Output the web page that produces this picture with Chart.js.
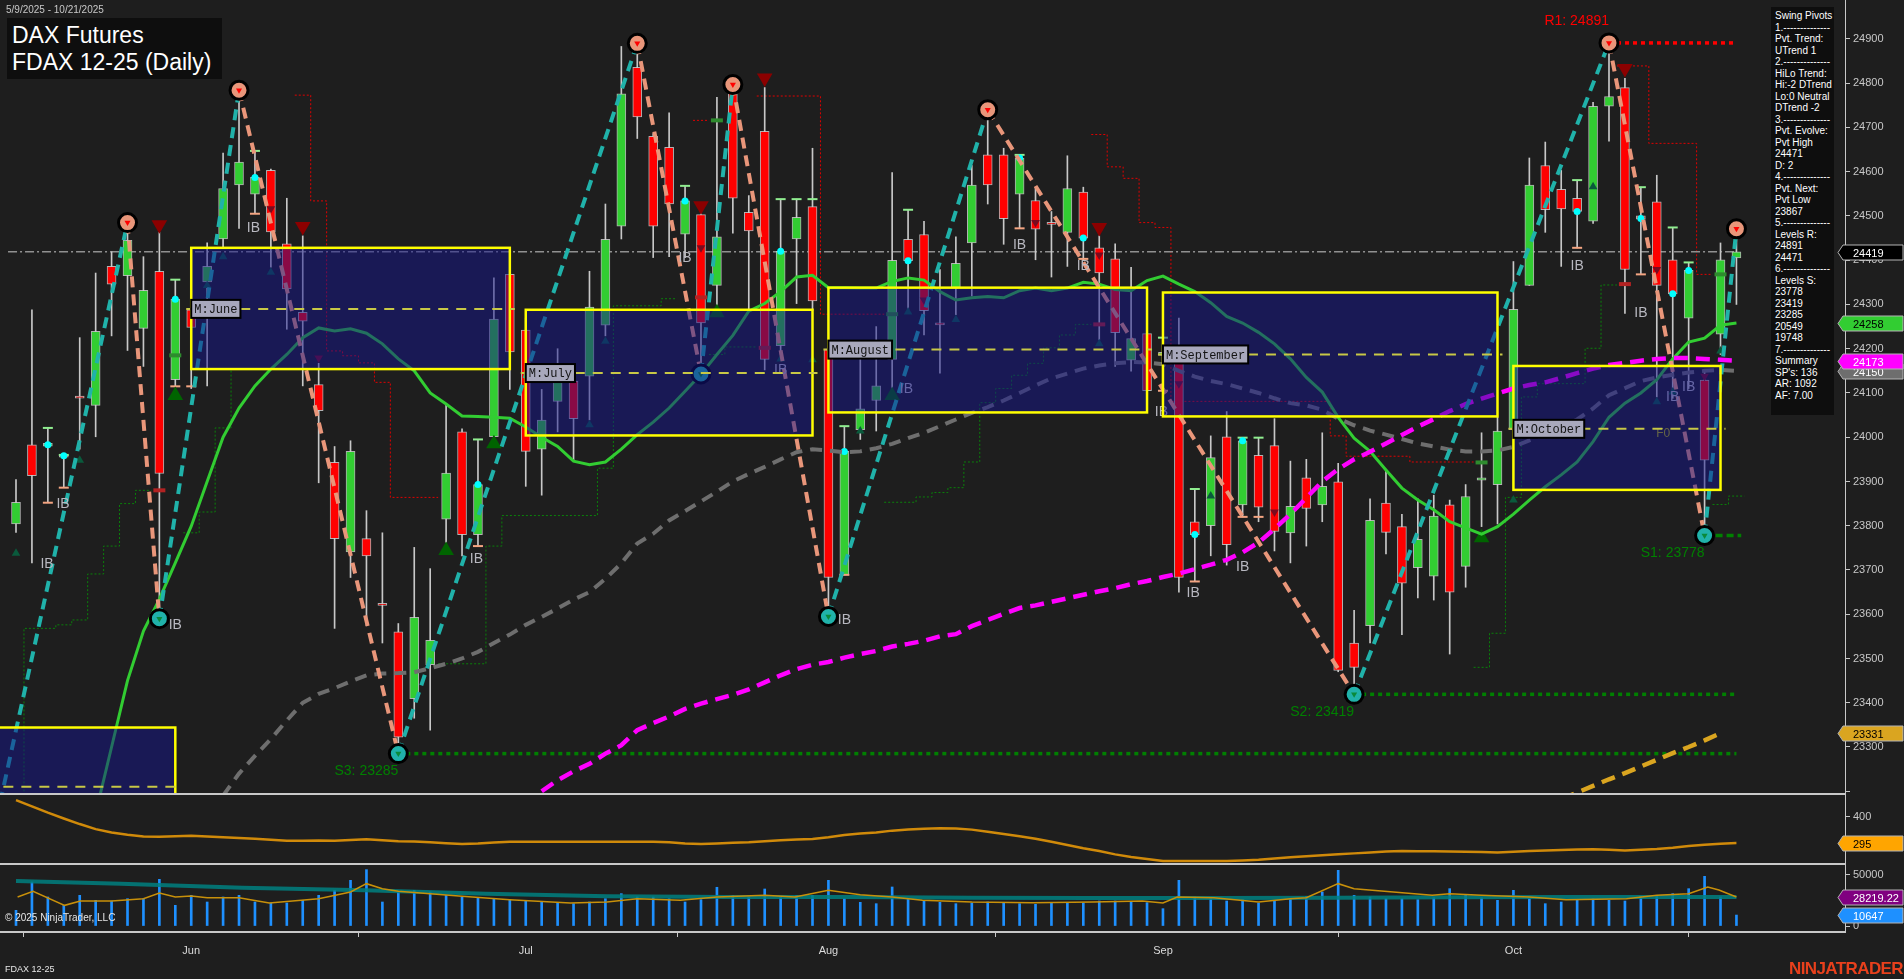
<!DOCTYPE html>
<html>
<head>
<meta charset="utf-8">
<title>DAX Futures FDAX 12-25 (Daily)</title>
<script src="https://cdn.jsdelivr.net/npm/chart.js@4.4.1/dist/chart.umd.min.js"></script>
<style>
  html, body { margin:0; padding:0; background:#1e1e1e; }
  body { width:1904px; height:979px; position:relative; overflow:hidden; font-family:"Liberation Sans", Arial, sans-serif; }
  canvas { position:absolute; left:0; display:block; }
  #cMain { top:0; } #cAtr { top:795px; } #cVol { top:865px; }
  .txt { position:absolute; white-space:nowrap; }
  #range { left:6px; top:4px; font-size:10px; color:#c8c8c8; }
  #title { left:7px; top:18px; width:215px; height:61px; background:#0e0e0e; color:#fff; font-size:23px; line-height:27px; padding:4px 0 0 5px; box-sizing:border-box; }
  #info { left:1771px; top:7px; width:63px; height:408px; background:#0e0e0e; color:#fff; font-size:10px; line-height:11.5px; padding:3px 0 0 4px; box-sizing:border-box; }
  #copy { left:5px; top:912px; font-size:10px; color:#e6e6e6; }
  #sym { left:5px; top:964px; font-size:9px; color:#e6e6e6; }
  #brand { right:1px; top:959px; font-size:17px; font-weight:bold; color:#e8401c; letter-spacing:-0.6px; }
</style>
</head>
<body>
<canvas id="cMain" width="1904" height="795"></canvas>
<canvas id="cAtr" width="1904" height="70"></canvas>
<canvas id="cVol" width="1904" height="114"></canvas>
<div class="txt" id="range">5/9/2025 - 10/21/2025</div>
<div class="txt" id="title">DAX Futures<br>FDAX 12-25 (Daily)</div>
<div class="txt" id="info">Swing Pivots<br>1.--------------<br>Pvt. Trend:<br>UTrend 1<br>2.--------------<br>HiLo Trend:<br>Hi:-2 DTrend<br>Lo:0 Neutral<br>DTrend -2<br>3.--------------<br>Pvt. Evolve:<br>Pvt High<br>24471<br>D: 2<br>4.--------------<br>Pvt. Next:<br>Pvt Low<br>23867<br>5.--------------<br>Levels R:<br>24891<br>24471<br>6.--------------<br>Levels S:<br>23778<br>23419<br>23285<br>20549<br>19748<br>7.--------------<br>Summary<br>SP's: 136<br>AR: 1092<br>AF: 7.00</div>
<div class="txt" id="copy">© 2025 NinjaTrader, LLC</div>
<div class="txt" id="sym">FDAX 12-25</div>
<div class="txt" id="brand">NINJATRADER</div>
<script>
// ---------------- DATA ----------------
const monthIdx = [11, 32, 51, 72, 94];
const monthLabels = ['Jun', 'Jul', 'Aug', 'Sep', 'Oct'];

const opens = [23804,23983,23980,23958,24093,24072,24386,24365,24246,24375,
24130,24288,24351,24448,24570,24549,24603,24437,24282,24119,
23943,23741,23771,23623,23560,23409,23486,23815,24012,23780,
24001,24368,24242,23973,24081,24127,24138,24253,24477,24836,
24680,24655,24459,24503,24343,24779,24508,24691,24207,24448,
24521,24198,23689,24017,24083,24176,24447,24458,24258,24337,
24439,24638,24638,24549,24535,24485,24463,24554,24428,24403,
24174,24234,24185,24187,23809,23800,24001,23847,23959,23981,
23784,23908,23847,23899,23535,23574,23851,23798,23705,23686,
23847,23708,23903,23893,24017,24343,24614,24560,24540,24488,
24748,24790,24500,24532,24401,24269,24129,24233,24405];
const highs = [23904,24288,24021,23960,24225,24371,24419,24485,24408,24463,
24356,24330,24439,24642,24784,24647,24606,24540,24455,24167,
23979,23992,23834,23784,23579,23751,23703,24072,24019,23995,
24360,24373,24269,24108,24200,24132,24375,24527,24883,24890,
24686,24733,24568,24505,24768,24800,24546,24790,24538,24538,
24653,24207,24025,24187,24250,24598,24514,24488,24379,24453,
24614,24742,24653,24638,24565,24510,24636,24565,24455,24437,
24384,24236,24225,24269,23883,24003,24058,23999,23999,24042,
23946,23950,24010,23941,23609,23861,23924,23826,23861,23869,
23858,23893,24010,24045,24397,24631,24667,24603,24581,24757,
24891,24811,24565,24592,24474,24395,24149,24439,24471];
const lows = [23785,23716,23852,23886,23973,24001,24229,24196,24160,23590,
24115,24110,24116,24428,24472,24505,24384,24244,24116,23897,
23568,23683,23574,23535,23285,23365,23338,23762,23732,23754,
23990,24108,23889,23869,24012,23946,24039,24229,24448,24675,
24406,24408,24406,24143,24297,24461,24286,24152,24187,24302,
24286,23595,23689,23995,24014,24105,24286,24231,24145,24277,
24319,24527,24436,24472,24401,24362,24386,24401,24220,24160,
24149,24099,24105,23650,23674,23732,23711,23820,23809,23743,
23716,23754,23809,23470,23419,23535,23736,23554,23637,23632,
23510,23661,23798,23804,24017,24343,24463,24386,24428,24483,
24669,24280,24368,24091,24088,24110,23778,24187,24300];
const closes = [23853,23913,23986,23955,24088,24239,24346,24445,24332,23918,
24312,24248,24386,24562,24622,24587,24464,24335,24262,24060,
23771,23968,23732,23620,23322,23593,23541,23919,23780,23893,
24267,24193,23968,24039,24138,24042,24294,24447,24776,24724,
24477,24527,24534,24258,24453,24540,24466,24176,24420,24497,
24308,23683,23968,24064,24116,24400,24399,24286,24254,24393,
24570,24570,24494,24631,24470,24481,24562,24450,24371,24236,
24223,24105,24192,23683,23780,23954,23757,23992,23842,23787,
23844,23839,23889,23473,23480,23812,23785,23670,23769,23822,
23650,23866,23908,24014,24289,24570,24514,24516,24510,24748,
24770,24379,24493,24343,24324,24377,23948,24401,24419];

const maGreen = [null,null,null,null,null,23150,23300,23450,23562,23634,
23716,23799,23900,24000,24066,24116,24154,24187,24225,24247,
24240,24245,24235,24211,24177,24150,24100,24075,24048,24047,
24045,24043,24023,24000,23979,23946,23938,23944,23973,24006,
24034,24066,24104,24142,24187,24230,24285,24302,24329,24362,
24366,24338,24338,24337,24337,24352,24360,24355,24329,24310,
24315,24318,24315,24331,24337,24331,24337,24350,24346,24334,
24331,24354,24364,24346,24329,24304,24273,24258,24237,24211,
24177,24135,24102,24045,23998,23968,23926,23885,23858,23836,
23809,23795,23781,23798,23826,23858,23888,23915,23944,23990,
24045,24077,24100,24130,24177,24215,24224,24253,24258];
const maGray = [null,null,null,null,null,null,null,null,null,null,
null,null,null,23190,23240,23280,23318,23360,23400,23420,
23433,23448,23462,23466,23467,23469,23478,23488,23500,23515,
23535,23554,23576,23594,23613,23633,23650,23680,23715,23760,
23782,23812,23833,23855,23877,23900,23917,23933,23950,23966,
23973,23970,23966,23968,23975,23985,23998,24010,24025,24040,
24055,24068,24083,24100,24117,24133,24144,24155,24162,24167,
24170,24169,24165,24150,24137,24127,24120,24110,24100,24088,
24077,24072,24062,24042,24027,24015,24006,23996,23986,23979,
23972,23968,23968,23970,23978,23993,24008,24023,24040,24065,
24095,24111,24127,24135,24141,24146,24150,24152,24150];
const maMagenta = [null,null,null,null,null,null,null,null,null,null,
null,null,null,null,null,null,null,null,null,null,
null,null,null,null,null,null,null,null,null,null,
null,null,null,23200,23225,23245,23262,23285,23304,23338,
23354,23369,23386,23398,23408,23418,23430,23446,23462,23476,
23486,23492,23502,23510,23517,23527,23533,23540,23550,23555,
23573,23587,23601,23614,23620,23628,23636,23644,23652,23659,
23668,23675,23684,23692,23702,23712,23723,23740,23762,23793,
23826,23863,23900,23928,23950,23967,23986,24005,24024,24041,
24059,24075,24087,24099,24110,24118,24124,24134,24145,24155,
24163,24168,24173,24177,24179,24179,24177,24175,24173];
const maOrangeIdx = [97, 98, 99, 100, 101, 102, 103, 104, 105, 106, 107];
const maOrangeVal = [23182, 23197, 23212, 23227, 23241, 23256, 23271, 23286, 23300, 23315, 23331];

const pivotIdx = [-1, 7, 9, 14, 24, 39, 43, 45, 51, 61, 84, 100, 106, 108];
const pivotVal = [23174, 24485, 23590, 24784, 23285, 24890, 24143, 24797, 23595, 24740, 23419, 24891, 23778, 24471];

const redStepIdx = [18,19,20,21,22,23,24,25,26, 43, 47,48,49,50,51,52,53,54,
  68,69,70,71,72,73,74,75,76,77,78,79,80,81,82,83,84,85,86,87,88,89,90,91, 101,102,103,104,105,106];
const redStepVal = [24773,24534,24195,24184,24168,24124,23864,23864,23864, 24716, 24771,24771,24771,24771,24278,24278,24278,24278,
  24684,24611,24585,24485,24474,24081,24081,24081,24081,24081,24081,24081,24081,24081,24081,24003,23957,23957,23957,23957,23944,23944,23944,23944,
  24839,24839,24664,24664,24664,24368];
const greenStepIdx = [0,1,2,3,4,5,6,7,8, 11,12,13,14, 27,28,29,30,31,32,33,34,35,36,37,38,39,40,41, 44,45,46,
  55,56,57,58,59,60,61,62,63,64,65,66,67, 92,93,94,95,96,97,98,99,100, 107,108];
const greenStepVal = [23100,23568,23568,23576,23587,23691,23754,23850,23880, 23784,23831,24021,24155,
  23488,23488,23488,23754,23823,23823,23823,23823,23823,23823,23930,24297,24297,24297,24313, 24187,24204,24204,
  23853,23853,23865,23875,23886,23944,24078,24110,24140,24167,24202,24231,24255,
  23480,23557,23864,24091,24121,24121,24121,24201,24344, 23848,23867];

const lastPrice = 24419;
const levelNames = ['R1: 24891', 'S1: 23778', 'S2: 23419', 'S3: 23285'];
const levelVals = [24891, 23778, 23419, 23285];
const levelFrom = [100, 106, 84, 24];
const levelTo = [108, 108.3, 108, 108];

const boxLabels = ['M:May', 'M:June', 'M:July', 'M:August', 'M:September', 'M:October'];
const boxStart = [-5, 11, 32, 51, 72, 94];
const boxEnd = [10, 31, 50, 71, 93, 107];
const boxTop = [23344, 24428, 24288, 24338, 24327, 24161];
const boxBottom = [23050, 24154, 24004, 24056, 24047, 23881];
const boxMid = [23210, 24290, 24145, 24198, 24187, 24019];

const ibIdx = [2.95, 1.95, 14.9, 10, 28.9, 42, 48, 52, 55.9, 63, 67, 71.9, 73.9, 77, 98, 102, 104, 105];
const ibVal = [23849, 23713, 24473, 23576, 23725, 24405, 24152, 23587, 24109, 24434, 24387, 24056, 23648, 23707, 24387, 24281, 24091, 24113];
const f0Idx = 103.4, f0Val = 24007;

const triDnBigIdx = [9, 18, 43, 47, 68, 101];
const triDnBigVal = [24480, 24476, 24523, 24812, 24474, 24833];
const triDnSmIdx = [16, 19, 43, 57, 64, 68, 73, 79, 103, 106];
const triDnSmVal = [24516, 24179, 24428, 24310, 24485, 24412, 24121, 23831, 24379, 24138];
const triUpBigIdx = [10, 27, 30, 44, 55, 92];
const triUpBigVal = [24094, 23744, 23985, 24281, 24094, 23773];
const triUpSmIdx = [0, 4, 12, 13, 16, 36, 37, 48, 50, 53, 56, 59, 68, 75, 94, 99, 103, 104, 107];
const triUpSmVal = [23738, 23948, 24343, 24408, 24373, 24028, 24217, 24177, 24175, 24014, 24283, 24266, 24211, 23867, 23858, 24566, 24080, 24102, 24195];
const cyanIdx = [2, 3, 10, 15, 29, 42, 48, 52, 56, 63, 67, 74, 77, 98, 102, 104, 105];
const cyanVal = [23983, 23958, 24312, 24587, 23893, 24534, 24420, 23968, 24399, 24631, 24450, 23780, 23992, 24510, 24494, 24324, 24377];
const hiMarkIdx = [2, 3, 10, 15, 29, 42, 48, 49, 50, 52, 56, 63, 72, 74, 77, 78, 98, 102, 104, 105];
const hiMarkVal = [24021, 23960, 24356, 24647, 23995, 24568, 24538, 24538, 24538, 24025, 24514, 24638, 24225, 23883, 23999, 23999, 24581, 24565, 24474, 24395];
const loMarkIdx = [2, 3, 10, 11, 15, 29, 52, 63, 67, 72, 74, 77, 78, 98, 102];
const loMarkVal = [23852, 23886, 24115, 24115, 24505, 23754, 23689, 24472, 24403, 24105, 23674, 23820, 23820, 24428, 24368];
const redBlockIdx = [9, 43, 47, 68, 101];
const redBlockVal = [23880, 24316, 24202, 24255, 24346];
const greenBlockIdx = [10, 44, 55, 92, 107];
const greenBlockVal = [24185, 24716, 24278, 23943, 24368];

const priceTicks = [23200,23300,23400,23500,23600,23700,23800,23900,24000,24100,24200,24300,24400,24500,24600,24700,24800,24900];
const priceTickLabels = ['','23300','23400','23500','23600','23700','23800','23900','24000','24100','24200','24300','24400','24500','24600','24700','24800','24900'];
const mainTagVals = [24419, 24258, 24150, 24173, 23331];
const mainTagLabels = ['24419', '24258', '24150', '24173', '23331'];

const atr = [465,440,415,392,370,350,337,328,321,320,
322,324,321,318,315,312,308,304,304,305,
304,307,310,306,302,301,298,294,291,293,
297,300,300,300,300,300,300,300,300,300,
300,298,293,291,293,296,298,302,306,309,
311,318,327,333,337,344,348,351,353,352,
348,340,331,322,312,300,287,274,263,250,
240,232,224,224,224,224,224,226,229,234,
239,243,247,251,254,257,261,263,262,262,
261,260,259,257,260,263,265,267,269,270,
268,265,268,271,276,283,288,292,295];
const atrTicks = [400];
const atrTagVals = [295];
const atrTagLabels = ['295'];

const volume = [15240,42720,28160,20070,29770,24920,24270,26530,26530,45310,
20070,29770,23300,28160,29770,23300,22330,22330,24920,29770,
34620,44330,54690,23300,33000,34620,33000,29770,28160,27510,
26530,25560,24270,23300,22330,21680,23300,26530,31390,28160,
28160,26530,23300,25560,37580,29770,28160,35920,28160,29770,
29770,44330,26530,22980,21680,37860,26530,24920,22980,21680,
22330,23300,22330,21680,21030,22330,22980,22330,24270,24270,
23300,22650,16830,44330,28160,26530,24270,25560,22330,24920,
26530,28800,33000,54050,29770,28160,26530,26530,25560,27510,
36240,29770,27510,24920,34620,26530,21680,23300,25560,26530,
24920,24270,28800,29770,31390,36240,48210,28160,10647];
const volMaIdx = [0.1,1.07,3.05,4.04,6,8,9,10,11,12,14,15.9,19,21,22,23,24,26,28,31,34.8,37.1,39,41.7,44,47,48.9,51,53,55,56.9,60,63.8,67.6,70.7,72,72.9,75.2,78,80,81,83,84,85.9,88.9,90,92,95,97.3,101.1,103,105,106.2,106.9,108];
const volMaVal = [28155,33650,20070,24270,24270,26530,32030,28155,29120,27500,27500,22320,26530,33000,41090,36240,33650,31390,28800,25560,22320,23300,26530,24920,28155,29770,28155,34620,30420,28155,24920,23300,22650,23300,24270,22320,28155,27500,23300,26530,27500,41090,36240,33650,29770,31390,29770,28155,25560,26530,29770,31390,37850,35000,28219];
const volAvgIdx = [0, 6.6, 14.2, 21.9, 29.5, 37.1, 44.7, 52.3, 60, 67.6, 75.2, 82.8, 90.5, 98, 108];
const volAvgVal = [43690, 41090, 37200, 34620, 31390, 28800, 28155, 28155, 27500, 27170, 27170, 27500, 27830, 28155, 28155];
const volTicks = [0, 50000];
const volTagVals = [28219.22, 10647];
const volTagLabels = ['28219.22', '10647'];

// ---------------- LAYOUT / STYLE ----------------
const BAR_PX = 15.93, FIRST_PX = 16, AREA_RIGHT = 1845, AXIS_W = 1904 - AREA_RIGHT;
const X_MIN = -FIRST_PX / BAR_PX, X_MAX = (AREA_RIGHT - FIRST_PX) / BAR_PX;
const FONT = '"Liberation Sans", Arial, sans-serif';
Chart.defaults.font.family = FONT;
Chart.defaults.color = '#c8c8c8';

const idx = opens.map((_, i) => i);
const pts = (ix, vs) => ix.map((i, k) => ({ x: i, y: vs[k] }));
const series = arr => arr.map((v, i) => ({ x: i, y: v }));
function stepPoints(ix, vs) {
  const out = [];
  ix.forEach((i, k) => {
    out.push({ x: i - 0.5, y: vs[k] });
    if (k === ix.length - 1 || ix[k + 1] !== i + 1) {
      out.push({ x: i + 0.5, y: vs[k] });
      out.push({ x: i + 0.5, y: null });
    }
  });
  return out;
}

function xAxis(show) {
  const ax = { type: 'linear', min: X_MIN, max: X_MAX, offset: false, display: show,
    afterFit: s => { s.paddingLeft = 0; s.paddingRight = 0; if (show) s.height = 47; } };
  if (show) {
    Object.assign(ax, {
      afterBuildTicks: s => { s.ticks = monthIdx.map(v => ({ value: v })); },
      ticks: { callback: (v, i) => monthLabels[i], color: '#dcdcdc', font: { size: 11 }, padding: 7, autoSkip: false, maxRotation: 0 },
      grid: { drawOnChartArea: false, drawTicks: true, tickLength: 5, color: '#c8c8c8' },
      border: { display: true, color: '#c8c8c8', width: 2 }
    });
  }
  return ax;
}
function yAxis(min, max, tickVals, labels) {
  return { type: 'linear', position: 'right', min, max,
    afterBuildTicks: s => { s.ticks = tickVals.map(v => ({ value: v })); },
    afterFit: s => { s.width = AXIS_W; s.paddingTop = 0; s.paddingBottom = 0; },
    ticks: { color: '#c8c8c8', font: { size: 11 }, padding: 3, autoSkip: false, callback: (v, i) => labels[i] },
    grid: { drawOnChartArea: false, drawTicks: true, tickLength: 5, color: '#c8c8c8' },
    border: { display: true, color: '#c8c8c8', width: 1 } };
}
function tagPlugin(vals, labels, bgs, fgs) {
  return { id: 'tags', afterDraw(chart) {
    const { ctx, chartArea: a } = chart; const ys = chart.scales.y;
    ctx.save();
    vals.forEach((v, k) => {
      const yy = Math.round(ys.getPixelForValue(v)) + 0.5, h = 15, xl = a.right - 7;
      ctx.beginPath(); ctx.moveTo(xl, yy); ctx.lineTo(xl + 5, yy - h / 2); ctx.lineTo(1903, yy - h / 2);
      ctx.lineTo(1903, yy + h / 2); ctx.lineTo(xl + 5, yy + h / 2); ctx.closePath();
      ctx.fillStyle = bgs[k]; ctx.fill(); ctx.strokeStyle = '#b4b4b4'; ctx.lineWidth = 1; ctx.stroke();
      ctx.fillStyle = fgs[k]; ctx.font = '11px ' + FONT; ctx.textBaseline = 'middle'; ctx.textAlign = 'left';
      ctx.fillText(labels[k], 1853, yy + 1);
    });
    ctx.restore();
  } };
}
const sepPlugin = { id: 'sep', afterDraw(chart) {
  const { ctx, chartArea: a } = chart;
  ctx.save(); ctx.strokeStyle = '#c8c8c8'; ctx.lineWidth = 2;
  ctx.beginPath(); ctx.moveTo(0, a.bottom - 1); ctx.lineTo(a.right, a.bottom - 1); ctx.stroke(); ctx.restore();
} };

const TEAL = '#20b2aa', SALMON = '#e9967a';
const overlayPlugin = { id: 'overlay', afterDatasetsDraw(chart) {
  const { ctx, chartArea: a, scales: { x, y } } = chart;
  ctx.save();
  ctx.beginPath(); ctx.rect(a.left, a.top, a.width, a.height); ctx.clip();
  ctx.textAlign = 'center'; ctx.textBaseline = 'middle';
  ctx.font = '14px ' + FONT; ctx.fillStyle = '#b8b8c0';
  ibIdx.forEach((i, k) => ctx.fillText('IB', x.getPixelForValue(i), y.getPixelForValue(ibVal[k])));
  ctx.font = '12px ' + FONT; ctx.fillStyle = '#b4b400';
  ctx.fillText('F0', x.getPixelForValue(f0Idx), y.getPixelForValue(f0Val));
  ctx.textAlign = 'right'; ctx.font = '14px ' + FONT;
  levelNames.forEach((n, k) => {
    ctx.fillStyle = k === 0 ? '#ff0000' : '#008000';
    ctx.fillText(n, x.getPixelForValue(levelFrom[k]), y.getPixelForValue(levelVals[k]) + (k === 0 ? -22 : 18));
  });
  // monthly boxes
  boxLabels.forEach((lab, k) => {
    const x0 = x.getPixelForValue(boxStart[k]), x1 = x.getPixelForValue(boxEnd[k]);
    const y0 = y.getPixelForValue(boxTop[k]), y1 = y.getPixelForValue(boxBottom[k]);
    ctx.fillStyle = 'rgba(20,20,140,0.5)'; ctx.fillRect(x0, y0, x1 - x0, y1 - y0);
  });
  boxLabels.forEach((lab, k) => {
    const x0 = x.getPixelForValue(boxStart[k]), x1 = x.getPixelForValue(boxEnd[k]);
    const y0 = y.getPixelForValue(boxTop[k]), y1 = y.getPixelForValue(boxBottom[k]);
    const ym = y.getPixelForValue(boxMid[k]);
    ctx.strokeStyle = '#ffff00'; ctx.lineWidth = 2.5; ctx.setLineDash([]);
    ctx.strokeRect(x0, y0, x1 - x0, y1 - y0);
    ctx.strokeStyle = '#c8c846'; ctx.lineWidth = 2; ctx.setLineDash([10, 8]);
    ctx.beginPath(); ctx.moveTo(x0 - 5, ym); ctx.lineTo(x1 + 5, ym); ctx.stroke();
    ctx.setLineDash([]);
    ctx.font = '12px "Liberation Mono", monospace';
    const w = ctx.measureText(lab).width + 6;
    ctx.fillStyle = '#a8a8bc'; ctx.fillRect(x0, ym - 9, w, 18);
    ctx.strokeStyle = '#000'; ctx.lineWidth = 2; ctx.strokeRect(x0, ym - 9, w, 18);
    ctx.fillStyle = '#141414'; ctx.textAlign = 'left'; ctx.fillText(lab, x0 + 3, ym + 1);
  });
  ctx.restore();
} };

// ---------------- MAIN PRICE CHART ----------------
const lineDs = (data, color, width, dash, order) => ({ type: 'line', data, borderColor: color, borderWidth: width, borderDash: dash, pointRadius: 0, fill: false, tension: 0, spanGaps: false, clip: 0, order });
const scat = (data, opts, order) => Object.assign({ type: 'scatter', data, clip: 0, order }, opts);

const mainDatasets = [
  Object.assign(lineDs(stepPoints(greenStepIdx, greenStepVal), '#0a800a', 1, [2, 2], 60), { stepped: 'before' }),
  Object.assign(lineDs(stepPoints(redStepIdx, redStepVal), '#e00000', 1, [2, 2], 59), { stepped: 'before' }),
  lineDs([{ x: -0.5, y: lastPrice }, { x: 108, y: lastPrice }], '#909090', 1.5, [9, 3, 2, 3], 58),
  ...levelNames.map((n, k) => lineDs([{ x: levelFrom[k], y: levelVals[k] }, { x: levelTo[k], y: levelVals[k] }],
      k === 0 ? '#ff0000' : '#008000', 3.5, k === 1 ? [7, 4] : [4, 4], 57)),
  { type: 'bar', data: idx.map(i => ({ x: i, y: [lows[i], highs[i]] })), backgroundColor: '#c8c8c8', barThickness: 1, grouped: false, order: 50 },
  { type: 'bar', data: idx.map(i => ({ x: i, y: [opens[i], closes[i]] })),
    backgroundColor: idx.map(i => closes[i] >= opens[i] ? '#32cd32' : '#ff0000'),
    borderColor: 'rgba(205,205,205,0.85)', borderWidth: 1, borderSkipped: false, barThickness: 9, minBarLength: 2, grouped: false, order: 49 },
  scat(pts(redBlockIdx, redBlockVal), { pointStyle: 'line', pointRadius: 6, pointBorderWidth: 4, pointBorderColor: '#b22222' }, 48),
  scat(pts(greenBlockIdx, greenBlockVal), { pointStyle: 'line', pointRadius: 6, pointBorderWidth: 4, pointBorderColor: '#2e8b2e' }, 48),
  scat(pts(hiMarkIdx, hiMarkVal), { pointStyle: 'line', pointRadius: 5, pointBorderWidth: 2, pointBorderColor: '#90ee90' }, 47),
  scat(pts(loMarkIdx, loMarkVal), { pointStyle: 'line', pointRadius: 5, pointBorderWidth: 2, pointBorderColor: '#f4a582' }, 47),
  scat(pts(cyanIdx, cyanVal), { pointStyle: 'circle', pointRadius: 3.5, pointBackgroundColor: '#00ffff', pointBorderWidth: 0 }, 46),
  scat(pts(triDnBigIdx, triDnBigVal), { pointStyle: 'triangle', pointRotation: 180, pointRadius: 9, pointBackgroundColor: '#8b0000', pointBorderWidth: 0 }, 45),
  scat(pts(triDnSmIdx, triDnSmVal), { pointStyle: 'triangle', pointRotation: 180, pointRadius: 5, pointBackgroundColor: '#7a0a1e', pointBorderWidth: 0 }, 45),
  scat(pts(triUpBigIdx, triUpBigVal), { pointStyle: 'triangle', pointRadius: 9, pointBackgroundColor: '#006400', pointBorderWidth: 0 }, 45),
  scat(pts(triUpSmIdx, triUpSmVal), { pointStyle: 'triangle', pointRadius: 5, pointBackgroundColor: '#0a5a3c', pointBorderWidth: 0 }, 45),
  lineDs(series(maGray), '#6e6e6e', 4, [12, 8], 40),
  lineDs(series(maGreen), '#32cd32', 3, [], 39),
  lineDs(series(maMagenta), '#ff00ff', 4.5, [14, 8], 38),
  lineDs(pts(maOrangeIdx, maOrangeVal), '#daa520', 4.5, [14, 8], 37),
  Object.assign(lineDs(pts(pivotIdx, pivotVal), TEAL, 4, [11, 7], 20), {
    segment: { borderColor: c => c.p1.parsed.y > c.p0.parsed.y ? TEAL : SALMON } }),
  scat(pts(pivotIdx.slice(1), pivotVal.slice(1)), {
    pointStyle: 'circle', pointRadius: 9, pointBorderWidth: 3, pointBorderColor: '#000',
    pointBackgroundColor: pivotVal.slice(1).map((v, k) => v > pivotVal[k] ? SALMON : TEAL) }, 10),
  scat(pts(pivotIdx.slice(1), pivotVal.slice(1)), {
    pointStyle: 'triangle', pointRotation: 180, pointRadius: 3.5, pointBorderWidth: 0,
    pointBackgroundColor: pivotVal.slice(1).map((v, k) => v > pivotVal[k] ? '#ff0000' : '#0a8a3a') }, 9)
];

const baseOpts = {
  responsive: false, animation: false, devicePixelRatio: 1, events: [],
  layout: { padding: 0, autoPadding: false },
  plugins: { legend: { display: false }, tooltip: { enabled: false } }
};

new Chart(document.getElementById('cMain'), {
  type: 'bar',
  data: { datasets: mainDatasets },
  options: Object.assign({}, baseOpts, {
    scales: { x: xAxis(false), y: yAxis(23191.5, 24988, priceTicks, priceTickLabels) }
  }),
  plugins: [overlayPlugin, sepPlugin,
    tagPlugin(mainTagVals, mainTagLabels, ['#000000', '#32cd32', '#6e6e6e', '#ff00ff', '#daa520'], ['#ffffff', '#000000', '#ffffff', '#ffffff', '#000000'])]
});

// ---------------- ATR PANEL ----------------
new Chart(document.getElementById('cAtr'), {
  type: 'line',
  data: { datasets: [lineDs(series(atr), '#d08a0a', 2.5, [], 1)] },
  options: Object.assign({}, baseOpts, {
    scales: { x: xAxis(false), y: yAxis(208, 485, atrTicks, ['400']) }
  }),
  plugins: [sepPlugin, tagPlugin(atrTagVals, atrTagLabels, ['#ffa500'], ['#000000'])]
});

// ---------------- VOLUME PANEL ----------------
new Chart(document.getElementById('cVol'), {
  type: 'bar',
  data: { datasets: [
    { type: 'bar', data: series(volume), backgroundColor: '#1e90ff', barThickness: 2, grouped: false, order: 5 },
    lineDs(pts(volAvgIdx, volAvgVal), 'rgba(0,128,128,0.85)', 4, [], 3),
    lineDs(pts(volMaIdx, volMaVal), '#c8900a', 1.5, [], 1)
  ] },
  options: Object.assign({}, baseOpts, {
    scales: { x: xAxis(true), y: yAxis(-5800, 59200, volTicks, ['0', '50000']) }
  }),
  plugins: [tagPlugin(volTagVals, volTagLabels, ['#800080', '#1e90ff'], ['#ffffff', '#ffffff'])]
});
</script>
</body>
</html>
